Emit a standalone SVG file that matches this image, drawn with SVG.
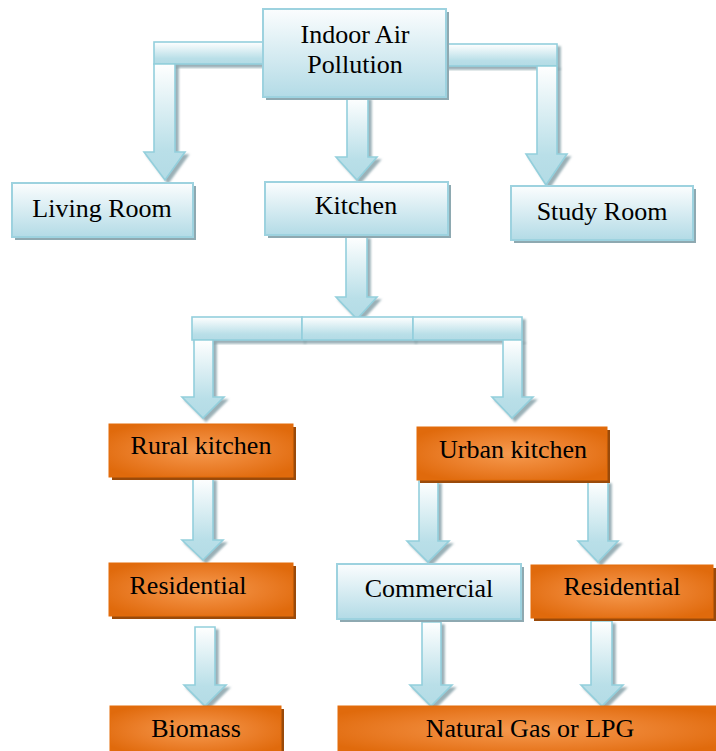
<svg xmlns="http://www.w3.org/2000/svg" width="716" height="751" viewBox="0 0 716 751">
<defs>
<linearGradient id="gBlue" x1="0" y1="0" x2="0" y2="1">
<stop offset="0" stop-color="#fbfdfe"/>
<stop offset="1" stop-color="#b3dbe6"/>
</linearGradient>
<linearGradient id="gArrow" x1="0" y1="0" x2="0" y2="1">
<stop offset="0" stop-color="#ffffff"/>
<stop offset="0.75" stop-color="#b9dfe8"/>
<stop offset="1" stop-color="#b3dbe5"/>
</linearGradient>
<radialGradient id="gOrange" cx="0.5" cy="0.5" r="0.6">
<stop offset="0" stop-color="#f69a4f"/>
<stop offset="0.6" stop-color="#ea7d28"/>
<stop offset="1" stop-color="#e06a0c"/>
</radialGradient>
<filter id="sh" x="-20%" y="-20%" width="140%" height="140%">
<feDropShadow dx="3" dy="3" stdDeviation="0.8" flood-color="#6f8f98" flood-opacity="0.7"/>
</filter>
</defs>
<style>
.arr{fill:url(#gArrow);stroke:#93cfdc;stroke-width:1.6;stroke-linejoin:miter;filter:url(#sh)}
.bx{fill:url(#gBlue);stroke:#9dd2df;stroke-width:2}
.bs{fill:#8ea9b1}
.ob{fill:url(#gOrange);stroke:#e36c0a;stroke-width:1}
.os{fill:#9a4a0a}
.t{font-size:26px;fill:#000;text-anchor:middle}
</style>
<g id="connectors">
<rect class="arr" x="154" y="42" width="112" height="22"/>
<rect class="arr" x="443" y="44" width="114" height="22"/>
<polygon class="arr" points="154,64 175,64 175,152 185,152 165,180 144,152 154,152"/>
<polygon class="arr" points="347,97 368,97 368,157 377,157 357,180 336,157 347,157"/>
<polygon class="arr" points="537,66 557,66 557,154 567,154 546,185 526,154 537,154"/>
<polygon class="arr" points="346,236 367,236 367,297 377,297 357,319 336,297 346,297"/>
<rect class="arr" x="192" y="317" width="110" height="23"/>
<rect class="arr" x="302" y="317" width="111" height="23"/>
<rect class="arr" x="413" y="317" width="109" height="23"/>
<polygon class="arr" points="194,340 213,340 213,397 224,397 203,418 182,397 194,397"/>
<polygon class="arr" points="503,340 522,340 522,397 533,397 512,418 492,397 503,397"/>
<polygon class="arr" points="193,478 213,478 213,540 223,540 203,560 182,540 193,540"/>
<polygon class="arr" points="419,481 438,481 438,541 449,541 428,562 407,541 419,541"/>
<polygon class="arr" points="588,481 608,481 608,541 618,541 598,562 578,541 588,541"/>
<polygon class="arr" points="195,627 215,627 215,685 226,685 205,706 184,685 195,685"/>
<polygon class="arr" points="422,622 441,622 441,685 452,685 431,706 410,685 422,685"/>
<polygon class="arr" points="591,621 612,621 612,685 623,685 602,706 581,685 591,685"/>
</g>
<g id="indoor-air-pollution">
<rect class="bs" x="266" y="12" width="183" height="88"/>
<rect class="bx" x="263" y="9" width="183" height="88"/>
<text class="t" font-family="Liberation Serif" x="355" y="43">Indoor Air</text>
<text class="t" font-family="Liberation Serif" x="355" y="73">Pollution</text>
</g>
<g id="living-room">
<rect class="bs" x="15" y="186" width="181" height="54"/>
<rect class="bx" x="12" y="183" width="181" height="54"/>
<text class="t" font-family="Liberation Serif" x="102" y="217">Living Room</text>
</g>
<g id="kitchen">
<rect class="bs" x="268" y="185" width="183" height="53"/>
<rect class="bx" x="265" y="182" width="183" height="53"/>
<text class="t" font-family="Liberation Serif" x="356" y="214">Kitchen</text>
</g>
<g id="study-room">
<rect class="bs" x="514" y="189" width="182" height="54"/>
<rect class="bx" x="511" y="186" width="182" height="54"/>
<text class="t" font-family="Liberation Serif" x="602" y="220">Study Room</text>
</g>
<g id="rural-kitchen">
<rect class="os" x="112" y="427" width="184" height="53"/>
<rect class="ob" x="109" y="424" width="184" height="53"/>
<text class="t" font-family="Liberation Serif" x="201" y="454">Rural kitchen</text>
</g>
<g id="urban-kitchen">
<rect class="os" x="420" y="430" width="190" height="53"/>
<rect class="ob" x="417" y="427" width="190" height="53"/>
<text class="t" font-family="Liberation Serif" x="513" y="458">Urban kitchen</text>
</g>
<g id="residential-rural">
<rect class="os" x="112" y="566" width="184" height="53"/>
<rect class="ob" x="109" y="563" width="184" height="53"/>
<text class="t" font-family="Liberation Serif" x="188" y="594">Residential</text>
</g>
<g id="commercial">
<rect class="bs" x="340" y="567" width="184" height="55"/>
<rect class="bx" x="337" y="564" width="184" height="55"/>
<text class="t" font-family="Liberation Serif" x="429" y="597">Commercial</text>
</g>
<g id="residential-urban">
<rect class="os" x="534" y="568" width="182" height="53"/>
<rect class="ob" x="531" y="565" width="182" height="53"/>
<text class="t" font-family="Liberation Serif" x="622" y="595">Residential</text>
</g>
<g id="biomass">
<rect class="os" x="113" y="709" width="171" height="48"/>
<rect class="ob" x="110" y="706" width="171" height="48"/>
<text class="t" font-family="Liberation Serif" x="196" y="737">Biomass</text>
</g>
<g id="natural-gas-lpg">
<rect class="os" x="341" y="709" width="380" height="48"/>
<rect class="ob" x="338" y="706" width="380" height="48"/>
<text class="t" font-family="Liberation Serif" x="530" y="737">Natural Gas or LPG</text>
</g>
</svg>
